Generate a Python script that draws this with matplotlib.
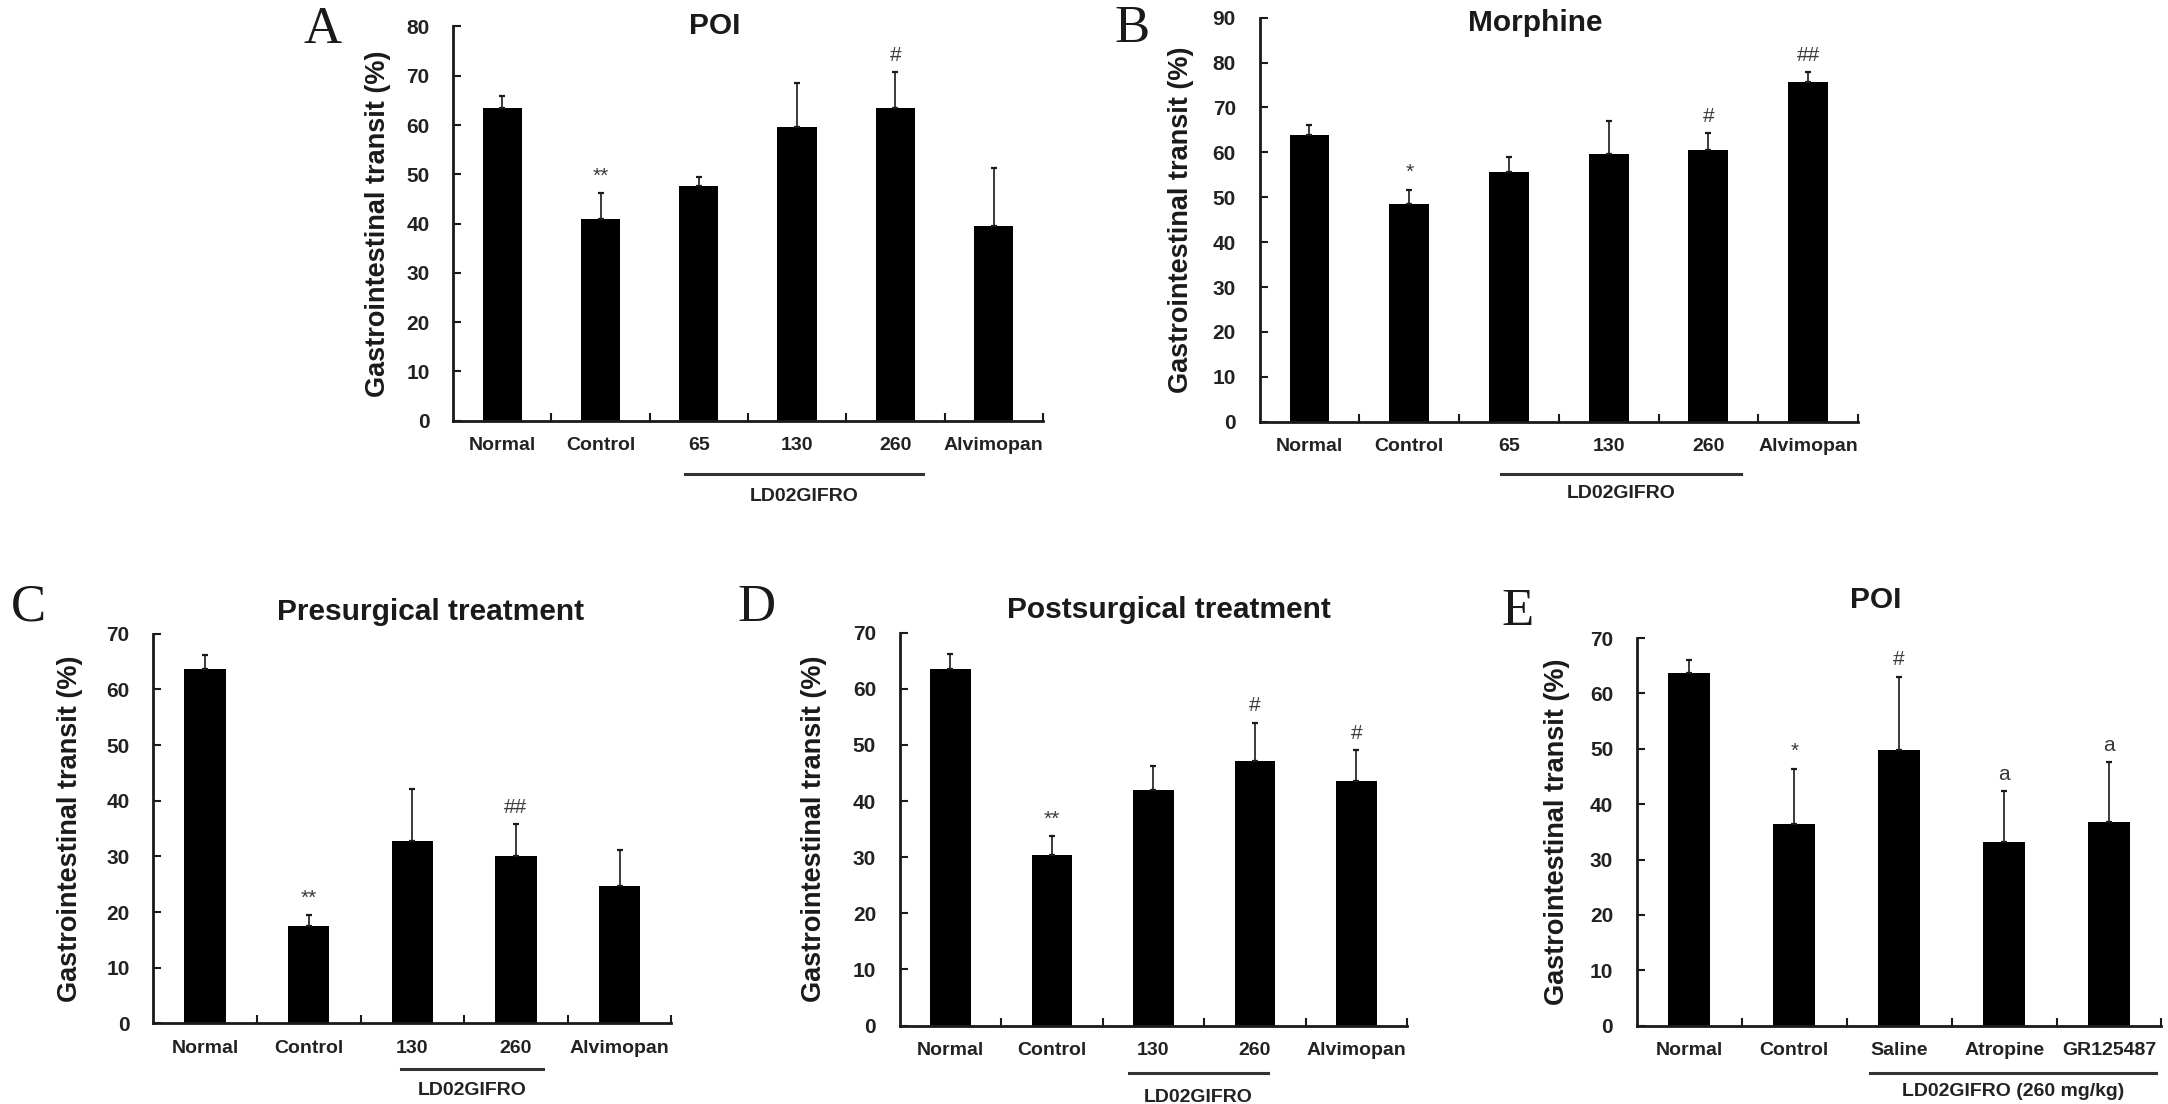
import matplotlib
matplotlib.use("Agg")
import matplotlib.pyplot as plt
from matplotlib import font_manager, transforms
from matplotlib.lines import Line2D

# ---- data ----
a_labels = ["Normal", "Control", "65", "130", "260", "Alvimopan"]
a_means = [63.4, 40.9, 47.7, 59.7, 63.4, 39.5]
a_errs = [2.5, 5.3, 1.7, 8.8, 7.3, 11.7]
a_marks = ["", "**", "", "", "#", ""]

b_labels = ["Normal", "Control", "65", "130", "260", "Alvimopan"]
b_means = [63.8, 48.4, 55.7, 59.7, 60.6, 75.7]
b_errs = [2.3, 3.3, 3.3, 7.3, 3.6, 2.1]
b_marks = ["", "*", "", "", "#", "##"]

c_labels = ["Normal", "Control", "130", "260", "Alvimopan"]
c_means = [63.7, 17.5, 32.7, 30.1, 24.6]
c_errs = [2.4, 1.9, 9.4, 5.7, 6.5]
c_marks = ["", "**", "", "##", ""]

d_labels = ["Normal", "Control", "130", "260", "Alvimopan"]
d_means = [63.6, 30.4, 41.9, 47.2, 43.5]
d_errs = [2.6, 3.4, 4.4, 6.7, 5.5]
d_marks = ["", "**", "", "#", "#"]

e_labels = ["Normal", "Control", "Saline", "Atropine", "GR125487"]
e_means = [63.7, 36.5, 49.7, 33.1, 36.8]
e_errs = [2.4, 9.9, 13.3, 9.2, 10.8]
e_marks = ["", "*", "#", "a", "a"]

titles = ["POI", "Morphine", "Presurgical treatment", "Postsurgical treatment", "POI"]
letters = ["A", "B", "C", "D", "E"]
group_names = ["LD02GIFRO", "LD02GIFRO", "LD02GIFRO", "LD02GIFRO", "LD02GIFRO (260 mg/kg)"]
ymaxes = [80, 90, 70, 70, 70]
ylabel = "Gastrointestinal transit (%)"

# ---- fonts ----
names = {f.name for f in font_manager.fontManager.ttflist}
sans = "Liberation Sans" if "Liberation Sans" in names else "DejaVu Sans"
serif = "Liberation Serif" if "Liberation Serif" in names else "DejaVu Serif"
plt.rcParams["font.family"] = [sans, "DejaVu Sans"]

ink = "#1a1a1a"

# ---- layout (figure fractions / pixel offsets) ----
axes_rects = [
    [0.209, 0.619, 0.272, 0.357],
    [0.581, 0.618, 0.276, 0.366],
    [0.0707, 0.073, 0.239, 0.353],
    [0.415, 0.071, 0.234, 0.356],
    [0.755, 0.071, 0.242, 0.351],
]
letter_xy = [(0.149, 0.973), (0.522, 0.974), (0.013, 0.450), (0.349, 0.449), (0.700, 0.446)]
title_x = [2.16, 2.26, 2.18, 2.15, 1.78]
title_dy = [0, -5, 22, 23, 38]
ylabel_dx = [75, 79, 83, 86, 80]
group_span = [(1.86, 4.28), (1.92, 4.33), (1.89, 3.26), (1.76, 3.13), (1.72, 4.45)]
group_line_dy = [53, 52, 46, 47, 47]
group_text_dy = [76, 72, 67, 72, 66]
xtick_size = 14
ytick_size = 15

panels = [
    (a_labels, a_means, a_errs, a_marks),
    (b_labels, b_means, b_errs, b_marks),
    (c_labels, c_means, c_errs, c_marks),
    (d_labels, d_means, d_errs, d_marks),
    (e_labels, e_means, e_errs, e_marks),
]

fig = plt.figure(figsize=(21.68, 11.04), dpi=100)

for i, (labels, means, errs, marks) in enumerate(panels):
    ax = fig.add_axes(axes_rects[i])
    n = len(labels)
    xs = list(range(n))
    ax.bar(xs, means, width=0.4, color="black", zorder=2)
    ax.errorbar(xs, means, yerr=[[0] * n, errs], fmt="none", ecolor=ink,
                elinewidth=1.2, capsize=2.5, capthick=1.6, zorder=3)
    for x, m, e, s in zip(xs, means, errs, marks):
        if s:
            ax.annotate(s, xy=(x, m + e), xytext=(0, 17), textcoords="offset pixels",
                        ha="center", va="center", fontsize=15, color="#3a3a3a")

    ax.set_xlim(-0.5, n - 0.5)
    ax.set_ylim(0, ymaxes[i])
    ax.set_yticks(range(0, ymaxes[i] + 1, 10))
    ax.set_xticks(xs)
    ax.set_xticklabels(labels)
    ax.set_xticks([k + 0.5 for k in range(n)], minor=True)
    ax.tick_params(axis="x", which="major", length=0, pad=12)
    ax.tick_params(axis="x", which="minor", direction="in", length=6, width=1.5, color=ink)
    ax.tick_params(axis="y", direction="in", length=6, width=1.5, color=ink, pad=17)
    for t in ax.get_xticklabels():
        t.set_fontweight("bold")
        t.set_fontsize(xtick_size)
        t.set_color("#222222")
    for t in ax.get_yticklabels():
        t.set_fontweight("bold")
        t.set_fontsize(ytick_size)
        t.set_color("#222222")

    for side in ["top", "right"]:
        ax.spines[side].set_visible(False)
    for side in ["left", "bottom"]:
        ax.spines[side].set_linewidth(2.0)
        ax.spines[side].set_color(ink)

    ax.annotate(titles[i], xy=(title_x[i], 1), xycoords=("data", "axes fraction"),
                xytext=(0, title_dy[i]), textcoords="offset pixels",
                ha="center", va="center", fontsize=21.5, fontweight="bold", color=ink)

    ax.text(0, 0.5, ylabel, rotation=90, ha="center", va="center",
            fontsize=19.5, fontweight="bold", color=ink,
            transform=transforms.offset_copy(ax.transAxes, fig=fig, x=-ylabel_dx[i], y=0, units="dots"))

    x1, x2 = group_span[i]
    blend = transforms.blended_transform_factory(ax.transData, ax.transAxes)
    ax.add_line(Line2D([x1, x2], [0, 0], color="#333333", lw=2.2, clip_on=False,
                       transform=transforms.offset_copy(blend, fig=fig, x=0, y=-group_line_dy[i], units="dots")))
    ax.annotate(group_names[i], xy=((x1 + x2) / 2, 0), xycoords=("data", "axes fraction"),
                xytext=(0, -group_text_dy[i]), textcoords="offset pixels",
                ha="center", va="center", fontsize=xtick_size, fontweight="bold",
                color="#222222")

    fig.text(letter_xy[i][0], letter_xy[i][1], letters[i], ha="center", va="center",
             fontsize=38, family=[serif, "DejaVu Serif"], color=ink)

fig.savefig("out.png", dpi=100)
